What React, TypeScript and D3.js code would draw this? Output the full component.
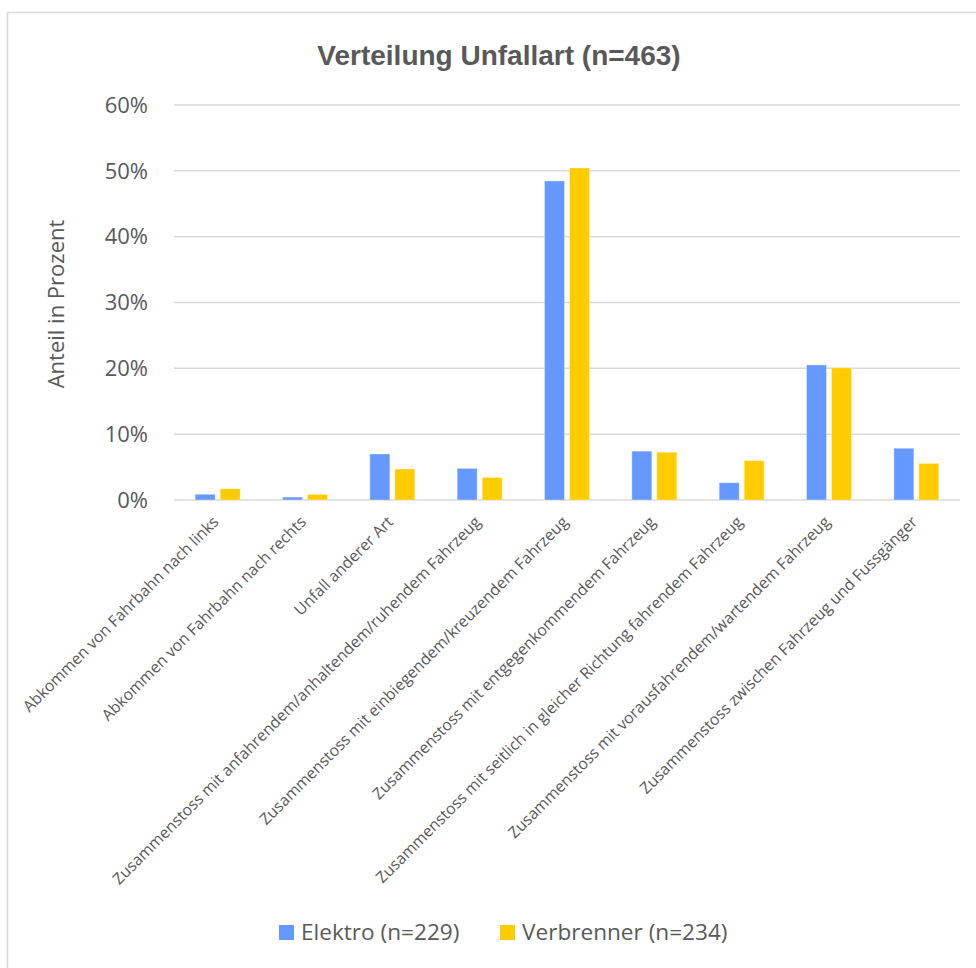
import React from "react";
import * as d3 from "d3";

const categories = [
  "Abkommen von Fahrbahn nach links",
  "Abkommen von Fahrbahn nach rechts",
  "Unfall anderer Art",
  "Zusammenstoss mit anfahrendem/anhaltendem/ruhendem Fahrzeug",
  "Zusammenstoss mit einbiegendem/kreuzendem Fahrzeug",
  "Zusammenstoss mit entgegenkommendem Fahrzeug",
  "Zusammenstoss mit seitlich in gleicher Richtung fahrendem Fahrzeug",
  "Zusammenstoss mit vorausfahrendem/wartendem Fahrzeug",
  "Zusammenstoss zwischen Fahrzeug und Fussgänger",
];
const seriesNames = ["Elektro (n=229)", "Verbrenner (n=234)"];
const elektro = [0.87, 0.44, 6.99, 4.8, 48.47, 7.42, 2.62, 20.52, 7.86];
const verbrenner = [1.71, 0.85, 4.7, 3.42, 50.43, 7.26, 5.98, 20.09, 5.56];
const yTicks = [0, 10, 20, 30, 40, 50, 60];
const colors = ["#6699FF", "#FFCC00"];
const title = "Verteilung Unfallart (n=463)";
const yTitle = "Anteil in Prozent";

const FONT = "'Open Sans', 'Noto Sans', sans-serif";
const TEXT = "#595959";

export default function App() {
  const W = 976, H = 968;
  const x = d3.scaleBand<string>().domain(categories).range([174, 960]).paddingInner(0).paddingOuter(0);
  const xs = d3.scaleBand<string>().domain(seriesNames).range([-22.5, 22.5]).paddingInner(0.2).paddingOuter(0);
  const y = d3.scaleLinear().domain([0, 60]).range([500, 105]);
  const data = [elektro, verbrenner];

  return (
    <svg width={W} height={H} style={{ position: "absolute", left: 0, top: 0, background: "#fff" }}>
      <rect x={7.5} y={12.5} width={1000} height={1000} fill="#fff" stroke="#d9d9d9" strokeWidth={1.5} />
      <text x={499} y={65} textAnchor="middle" fontFamily="'Liberation Sans Narrow', 'Arial Narrow', sans-serif" fontWeight="bold" fontSize={28} fill={TEXT}>{title}</text>
      {yTicks.map((t) => (
        <g key={t}>
          <line x1={174} x2={960} y1={y(t)} y2={y(t)} stroke="#d9d9d9" strokeWidth={1.5} />
          <text x={148} y={y(t)} dy="0.35em" textAnchor="end" fontFamily={FONT} fontSize={22} fill={TEXT}>{t}%</text>
        </g>
      ))}
      <text transform={`translate(64,${304}) rotate(-90)`} textAnchor="middle" fontFamily={FONT} fontSize={22} fill={TEXT}>{yTitle}</text>
      {data.map((vals, si) =>
        vals.map((v, ci) => {
          const cx = (x(categories[ci]) as number) + x.bandwidth() / 2;
          return (
            <rect key={`${si}-${ci}`} x={cx + (xs(seriesNames[si]) as number)} y={y(v)} width={xs.bandwidth()} height={y(0) - y(v)} fill={colors[si]} stroke="#ffffff" strokeOpacity={0.35} strokeWidth={1} />
          );
        })
      )}
      {categories.map((c) => {
        const cx = (x(c) as number) + x.bandwidth() / 2;
        return (
          <text key={c} transform={`translate(${cx + 2},${523}) rotate(-45)`} textAnchor="end" fontFamily={FONT} fontSize={15.8} fill={TEXT}>{c}</text>
        );
      })}
      {seriesNames.map((s, i) => {
        const lx = i === 0 ? 279 : 500;
        return (
          <g key={s}>
            <rect x={lx} y={925} width={15} height={15} fill={colors[i]} />
            <text x={lx + 22} y={932.5} dy="0.35em" fontFamily={FONT} fontSize={22.6} fill={TEXT}>{s}</text>
          </g>
        );
      })}
    </svg>
  );
}
